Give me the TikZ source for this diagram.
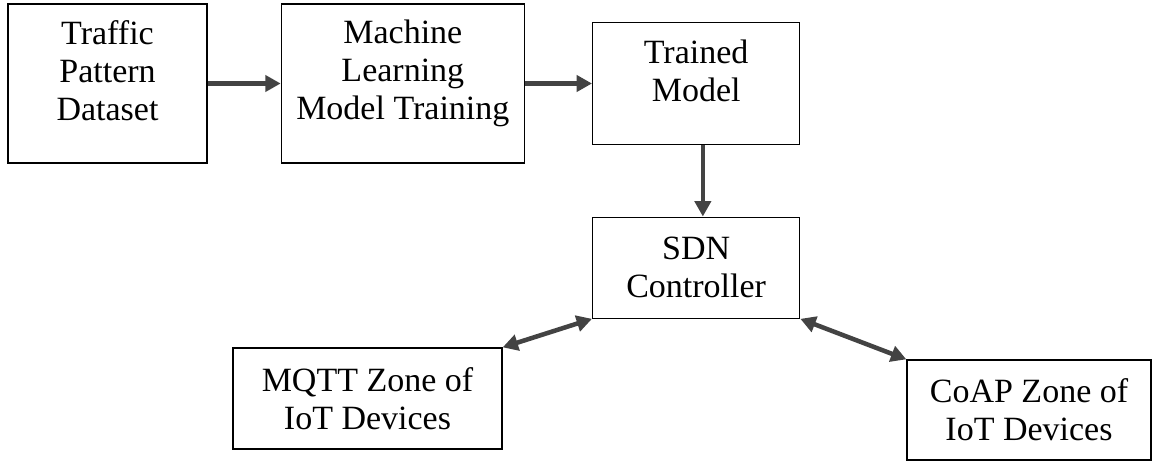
\documentclass[tikz,border=0pt]{standalone}
\usepackage{fontspec}
\setmainfont{Liberation Serif}
\usetikzlibrary{arrows.meta, positioning}
\definecolor{arrowgray}{HTML}{434343}

\begin{document}
\begin{tikzpicture}[x=0.75pt, y=-0.75pt,
    box/.style={draw, rectangle, line width=1pt, inner sep=0pt, align=center, font=\fontsize{25.5}{28.5}\selectfont},
    toptext/.style={anchor=north, align=center, inner sep=0pt, yshift=-12.5pt, font=\fontsize{25.5}{28.5}\selectfont},
    flow/.style={draw=arrowgray, line width=3.4pt, -{Triangle[length=11.5pt, width=12pt]}},
    both/.style={draw=arrowgray, line width=3.4pt, {Triangle[length=11.5pt, width=12pt]}-{Triangle[length=11.5pt, width=12pt]}}]

    \useasboundingbox (0,0) rectangle (1153,464);

    % Nodes for the training chain (top row)
    \node (dataset) [box, minimum width=149.25pt, minimum height=119.25pt, label={[toptext]north:Traffic\\Pattern\\Dataset}] at (107.5,83.5) {};
    \node (mlTraining) [box, right=54.75pt of dataset, minimum width=182.25pt, minimum height=119.25pt, label={[toptext]north:Machine\\Learning\\Model Training}] {};
    \node (trainedModel) [box, right=50.25pt of mlTraining, minimum width=155.25pt, minimum height=91.5pt, label={[toptext, yshift=-1pt]north:Trained\\Model}] {};

    % Controller below the trained model
    \node (sdnController) [box, below=53.5pt of trainedModel, minimum width=155.25pt, minimum height=75.75pt] {SDN\\Controller};

    % Nodes for the two device zones
    \node (mqttZone) [box, minimum width=201.75pt, minimum height=75.75pt] at (367.5,398.5) {MQTT Zone of\\IoT Devices};
    \node (coapZone) [box, minimum width=183pt, minimum height=75pt] at (1029,410) {CoAP Zone of\\IoT Devices};

    % Draw arrows along the chain
    \draw[flow] (dataset) -- (mlTraining);
    \draw[flow] (mlTraining.east) -- (mlTraining.east -| trainedModel.west);
    \draw[flow] ([xshift=5pt]trainedModel.south) -- ([xshift=5pt]trainedModel.south |- sdnController.north);

    % Draw two-way arrows from the controller to each zone
    \draw[both] (mqttZone.north east) -- (sdnController.south west);
    \draw[both] (sdnController.south east) -- (coapZone.north west);

\end{tikzpicture}
\end{document}
